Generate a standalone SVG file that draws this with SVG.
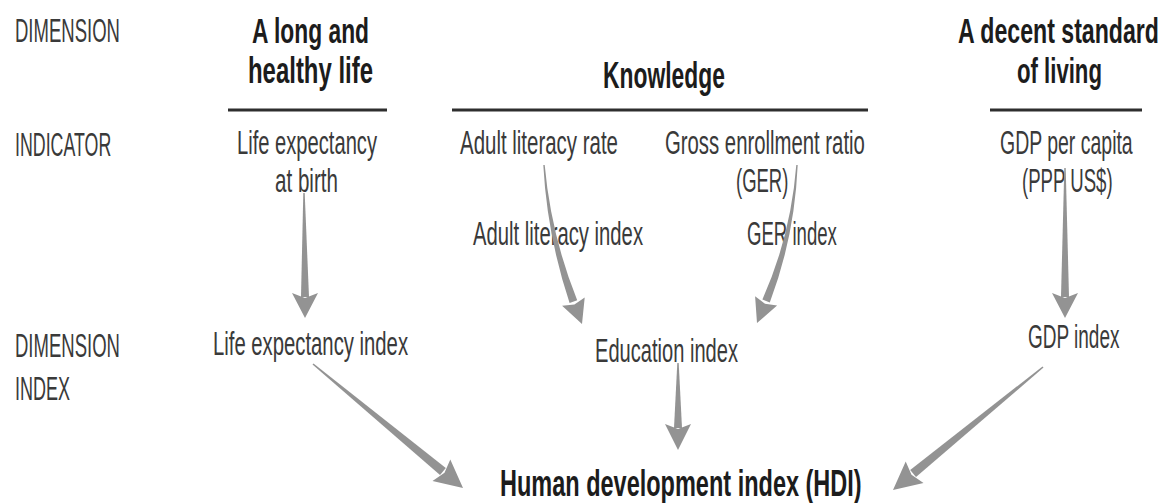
<svg xmlns="http://www.w3.org/2000/svg" width="1168" height="503" viewBox="0 0 1168 503">
  <style>
    text { font-family: "Liberation Sans", Arial, sans-serif; }
    .lbl { font-size: 33px; fill: #3a3a3a; }
    .head { font-size: 36px; font-weight: bold; fill: #1c1c1c; }
    .rule { stroke: #2e2e2e; stroke-width: 3; }
    .arr { fill: #939393; stroke: none; }
  </style>
  <rect width="1168" height="503" fill="#ffffff"/>

  <!-- row labels (condensed lettering via horizontal scale) -->
  <g id="row-labels">
    <text class="lbl" transform="translate(15,42) scale(0.561,1)">DIMENSION</text>
    <text class="lbl" transform="translate(15,156) scale(0.540,1)">INDICATOR</text>
    <text class="lbl" transform="translate(15,357) scale(0.561,1)">DIMENSION</text>
    <text class="lbl" transform="translate(15,400) scale(0.546,1)">INDEX</text>
  </g>

  <!-- dimensions -->
  <g id="dim-health">
    <text class="head" transform="translate(252,43) scale(0.634,1)">A long and</text>
    <text class="head" transform="translate(248,83) scale(0.665,1)">healthy life</text>
    <line class="rule" x1="228" y1="110" x2="387" y2="110"/>
  </g>
  <g id="dim-knowledge">
    <text class="head" transform="translate(603,88) scale(0.635,1)">Knowledge</text>
    <line class="rule" x1="452" y1="110" x2="868" y2="110"/>
  </g>
  <g id="dim-living">
    <text class="head" transform="translate(958,43) scale(0.643,1)">A decent standard</text>
    <text class="head" transform="translate(1017,83) scale(0.616,1)">of living</text>
    <line class="rule" x1="990" y1="110" x2="1142" y2="110"/>
  </g>

  <!-- indicators -->
  <g id="ind-life">
    <text class="lbl" transform="translate(237,154) scale(0.611,1)">Life expectancy</text>
    <text class="lbl" transform="translate(275,192) scale(0.624,1)">at birth</text>
  </g>
  <g id="ind-literacy">
    <text class="lbl" transform="translate(460,154) scale(0.620,1)">Adult literacy rate</text>
  </g>
  <g id="ind-ger">
    <text class="lbl" transform="translate(665,154) scale(0.616,1)">Gross enrollment ratio</text>
    <text class="lbl" transform="translate(736,192) scale(0.56,1)">(GER)</text>
  </g>
  <g id="ind-gdp">
    <text class="lbl" transform="translate(1000,154) scale(0.590,1)">GDP per capita</text>
    <text class="lbl" transform="translate(1022,192) scale(0.564,1)">(PPP US$)</text>
  </g>

  <!-- sub-indices -->
  <g id="idx-literacy">
    <text class="lbl" transform="translate(473,245) scale(0.614,1)">Adult literacy index</text>
  </g>
  <g id="idx-ger">
    <text class="lbl" transform="translate(747,245) scale(0.564,1)">GER index</text>
  </g>

  <!-- dimension indices -->
  <g id="idx-life">
    <text class="lbl" transform="translate(213,355) scale(0.615,1)">Life expectancy index</text>
  </g>
  <g id="idx-education">
    <text class="lbl" transform="translate(595,362) scale(0.609,1)">Education index</text>
  </g>
  <g id="idx-gdp">
    <text class="lbl" transform="translate(1028,348) scale(0.576,1)">GDP index</text>
  </g>

  <!-- composite index -->
  <g id="hdi">
    <text class="head" transform="translate(500,496) scale(0.653,1)">Human development index (HDI)</text>
  </g>

  <!-- tapered arrows: thin tail widening into the head -->
  <g id="connectors">
    <!-- life expectancy at birth -> life expectancy index -->
    <path class="arr" d="M303.3,193 L304.7,193 L309,297 L301,297 Z"/>
    <path class="arr" d="M292,293 L305,298 L318,293 L305,318 Z"/>

    <!-- adult literacy rate -> education index -->
    <path class="arr" d="M543.3,165 Q547.1,235.4 569.6,303.1 L577.2,300.3 Q550.9,234.6 544.7,165 Z"/>
    <path class="arr" d="M562.1,305.8 L574.4,304.5 L584.7,297.6 L582,324 Z"/>

    <!-- GER -> education index -->
    <path class="arr" d="M796.3,165 Q790.8,236 762.4,299.4 L769.8,302.4 Q794.6,237 797.7,165 Z"/>
    <path class="arr" d="M755.1,296.3 L765,303.7 L777.1,305.5 L757,323 Z"/>

    <!-- GDP per capita -> GDP index -->
    <path class="arr" d="M1064.3,168 L1065.7,168 L1069,297 L1061,297 Z"/>
    <path class="arr" d="M1052,293 L1065,298 L1078,293 L1065,318 Z"/>

    <!-- life expectancy index -> HDI -->
    <path class="arr" d="M312.5,364.6 L313.5,363.4 L445.8,468 L440,475 Z"/>
    <path class="arr" d="M432.5,481 L444.5,472.7 L450.3,459.4 L463,488 Z"/>

    <!-- education index -> HDI -->
    <path class="arr" d="M677.3,363 L678.7,363 L682,428 L674,428 Z"/>
    <path class="arr" d="M665,424 L678,429 L691,424 L678,450 Z"/>

    <!-- GDP index -> HDI -->
    <path class="arr" d="M1042.5,366.4 L1043.5,367.6 L916,477 L910.2,470 Z"/>
    <path class="arr" d="M905.7,461.4 L911.5,474.7 L923.5,483 L893,490 Z"/>
  </g>
</svg>
